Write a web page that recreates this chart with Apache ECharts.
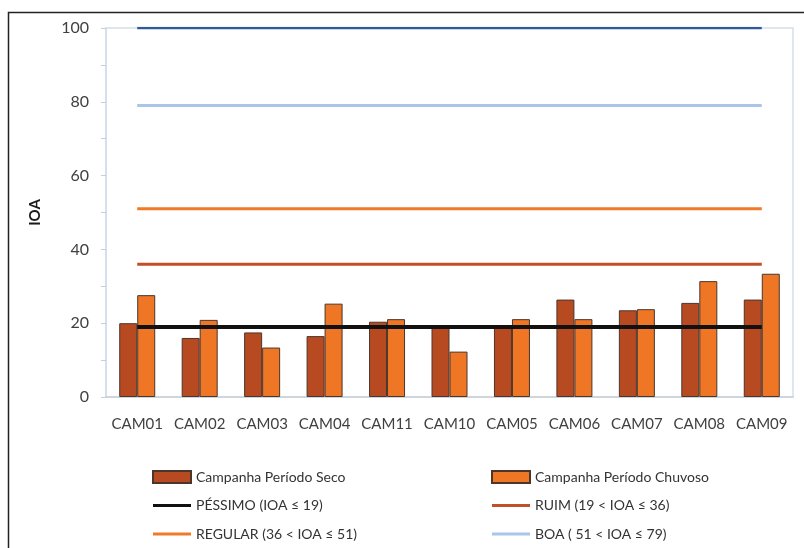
<!DOCTYPE html>
<html>
<head>
<meta charset="utf-8">
<script src="https://cdn.jsdelivr.net/npm/echarts@6/dist/echarts.min.js"></script>
<style>
  html, body { margin: 0; padding: 0; background: #fff; }
  #chart { width: 804px; height: 548px; }
</style>
</head>
<body>
<div id="chart"></div>
<script>
// Sampling points
const categories = ['CAM01', 'CAM02', 'CAM03', 'CAM04', 'CAM11', 'CAM10', 'CAM05', 'CAM06', 'CAM07', 'CAM08', 'CAM09'];

// IOA per campaign
const seco    = [20.0, 16.0, 17.5, 16.5, 20.4, 19.2, 18.9, 26.4, 23.5, 25.5, 26.4];
const chuvoso = [27.6, 20.9, 13.4, 25.3, 21.1, 12.3, 21.1, 21.1, 23.8, 31.4, 33.4];

// Class limits drawn as horizontal reference lines across the sampling points
const otima   = [100, 100, 100, 100, 100, 100, 100, 100, 100, 100, 100];
const boa     = [79, 79, 79, 79, 79, 79, 79, 79, 79, 79, 79];
const regular = [51, 51, 51, 51, 51, 51, 51, 51, 51, 51, 51];
const ruim    = [36, 36, 36, 36, 36, 36, 36, 36, 36, 36, 36];
const pessimo = [19, 19, 19, 19, 19, 19, 19, 19, 19, 19, 19];

const names = {
  seco: 'Campanha Período Seco',
  chuvoso: 'Campanha Período Chuvoso',
  pessimo: 'PÉSSIMO (IOA ≤ 19)',
  ruim: 'RUIM (19 < IOA ≤ 36)',
  regular: 'REGULAR (36 < IOA ≤ 51)',
  boa: 'BOA ( 51 < IOA ≤ 79)',
  otima: 'ÓTIMA (79 < IOA ≤ 100)'
};

const FONT = 'Lato, "Open Sans", sans-serif';

// Legend keys: a flat bar for the columns, a thin stroke for the limit lines
// (the empty moves keep the full 38x12 box so the stroke is not stretched)
const BAR_ICON = 'rect';
const LINE_ICON = 'path://M0 0 M0 4.5 L38 4.5 L38 7.5 L0 7.5 Z M38 12';

function refLine(name, data, color, width) {
  return {
    name: name, type: 'line', data: data, symbol: 'none', z: 5,
    lineStyle: { color: color, width: width },
    itemStyle: { color: color },
    emphasis: { disabled: true }, animation: false
  };
}

const legendCommon = {
  orient: 'vertical', top: 465, itemWidth: 38, itemHeight: 12, itemGap: 14.5,
  textStyle: { fontFamily: FONT, fontSize: 14, color: '#333' },
  selectedMode: false
};

const chart = echarts.init(document.getElementById('chart'), null, { renderer: 'canvas' });
chart.setOption({
  animation: false,
  backgroundColor: '#fff',
  grid: { left: 106, right: 11, top: 28, bottom: 151, show: true, borderColor: '#d3deea', borderWidth: 1.5 },
  graphic: [{
    type: 'polyline',
    shape: { points: [[8.5, 548], [8.5, 12.5], [804, 12.5]] },
    style: { stroke: '#222', lineWidth: 1.5, fill: null }
  }],
  legend: [
    Object.assign({
      left: 147,
      data: [
        { name: names.seco, icon: BAR_ICON },
        { name: names.pessimo, icon: LINE_ICON },
        { name: names.regular, icon: LINE_ICON }
      ]
    }, legendCommon),
    Object.assign({
      left: 486,
      data: [
        { name: names.chuvoso, icon: BAR_ICON },
        { name: names.ruim, icon: LINE_ICON },
        { name: names.boa, icon: LINE_ICON }
      ]
    }, legendCommon)
  ],
  xAxis: {
    type: 'category', data: categories,
    axisLine: { lineStyle: { color: '#c9cfd6', width: 1.5 } },
    axisTick: { alignWithLabel: false, length: 5, lineStyle: { color: '#c9cfd6' } },
    axisLabel: { interval: 0, fontFamily: FONT, fontSize: 15, color: '#404040', margin: 20 }
  },
  yAxis: {
    type: 'value', min: 0, max: 100, interval: 10,
    name: 'IOA', nameLocation: 'middle', nameGap: 63, nameRotate: 90,
    nameTextStyle: { fontFamily: FONT, fontSize: 15, fontWeight: 'bold', color: '#1a1a1a' },
    axisLine: { show: true, lineStyle: { color: '#d3deea', width: 1.5 } },
    axisTick: { show: true, length: 5, lineStyle: { color: '#c9cfd6' } },
    splitLine: { show: false },
    axisLabel: {
      fontFamily: FONT, fontSize: 16, color: '#404040', margin: 17,
      formatter: v => (v % 20 === 0 ? String(v) : '')
    }
  },
  series: [
    {
      name: names.seco, type: 'bar', data: seco, barWidth: 18, barGap: '0%',
      itemStyle: { color: '#b84a22', borderColor: '#4a362c', borderWidth: 1 }
    },
    {
      name: names.chuvoso, type: 'bar', data: chuvoso, barWidth: 18,
      itemStyle: { color: '#ee7624', borderColor: '#4a362c', borderWidth: 1 }
    },
    refLine(names.otima, otima, '#2d5c99', 2.5),
    refLine(names.boa, boa, '#a8c7e8', 3),
    refLine(names.regular, regular, '#f07a28', 3),
    refLine(names.ruim, ruim, '#c0502a', 3),
    refLine(names.pessimo, pessimo, '#111111', 4)
  ]
});
</script>
</body>
</html>
